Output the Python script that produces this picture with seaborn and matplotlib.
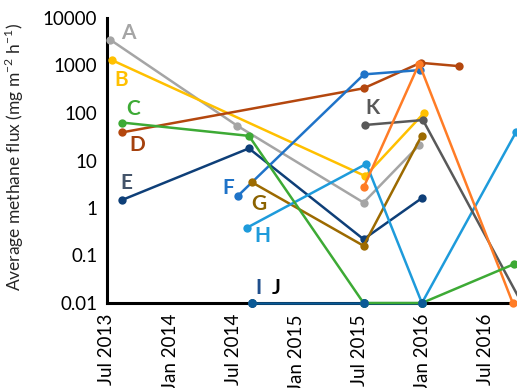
import matplotlib
matplotlib.use('Agg')
import matplotlib.pyplot as plt
import matplotlib.dates as mdates
import seaborn as sns
import pandas as pd

sns.set_style('white')
plt.rcParams['font.family'] = ['Lato', 'DejaVu Sans']
plt.rcParams['mathtext.fontset'] = 'custom'
plt.rcParams['mathtext.rm'] = 'Lato'

# ---- data ----
A_dates = ['2013-07-10', '2014-07-13', '2015-07-14', '2015-12-22']
A_vals = [3500, 54, 1.3, 21]
B_dates = ['2013-07-15', '2015-07-19', '2016-01-05']
B_vals = [1300, 4.7, 100]
C_dates = ['2013-08-13', '2014-08-16', '2015-07-14', '2015-12-30', '2016-09-22']
C_vals = [63, 33, 0.01, 0.01, 0.066]
D_dates = ['2013-08-13', '2015-07-14', '2015-12-26', '2016-04-15']
D_vals = [39, 331, 1140, 970]
E_dates = ['2013-08-13', '2014-08-16', '2015-07-14', '2015-12-29']
E_vals = [1.47, 18, 0.22, 1.6]
F_dates = ['2014-07-15', '2015-07-15', '2015-12-23']
F_vals = [1.8, 650, 800]
G_dates = ['2014-08-24', '2015-07-14', '2015-12-29']
G_vals = [3.5, 0.16, 33]
H_dates = ['2014-08-09', '2015-07-22', '2015-12-30', '2016-09-27']
H_vals = [0.38, 8.5, 0.01, 39]
I_dates = ['2014-08-24', '2015-07-14', '2015-12-30']
I_vals = [0.01, 0.01, 0.01]
J_dates = ['2014-08-24', '2015-07-14', '2015-12-30']
J_vals = [0.01, 0.01, 0.01]
K_dates = ['2015-07-19', '2016-01-02', '2016-10-14']
K_vals = [56, 71, 0.01]
L_dates = ['2015-07-15', '2015-12-22', '2016-09-18']
L_vals = [2.8, 1100, 0.01]

y_ticks = [0.01, 0.1, 1, 10, 100, 1000, 10000]
y_tick_labels = ['0.01', '0.1', '1', '10', '100', '1000', '10000']
x_tick_dates = ['2013-07-01', '2014-01-01', '2014-07-01', '2015-01-01',
                '2015-07-01', '2016-01-01', '2016-07-01']

series = [
    ('J', J_dates, J_vals, '#000000'),
    ('I', I_dates, I_vals, '#0B5A96'),
    ('A', A_dates, A_vals, '#A5A5A5'),
    ('B', B_dates, B_vals, '#FFC000'),
    ('D', D_dates, D_vals, '#B4470E'),
    ('E', E_dates, E_vals, '#0E3F78'),
    ('F', F_dates, F_vals, '#1F73C8'),
    ('G', G_dates, G_vals, '#9C6A00'),
    ('H', H_dates, H_vals, '#1E9BDB'),
    ('K', K_dates, K_vals, '#595959'),
    ('L', L_dates, L_vals, '#FF7C26'),
    ('C', C_dates, C_vals, '#3DAA35'),
]

labels = {
    'A': ('2013-08-31', 4800, '#A5A5A5'),
    'B': ('2013-08-10', 495, '#FFC000'),
    'C': ('2013-09-14', 121, '#3DAA35'),
    'D': ('2013-09-26', 21, '#A5410E'),
    'E': ('2013-08-25', 3.36, '#44546A'),
    'F': ('2014-06-16', 2.64, '#1F73C8'),
    'G': ('2014-09-14', 1.21, '#8B6200'),
    'H': ('2014-09-23', 0.258, '#1E9BDB'),
    'I': ('2014-09-14', 0.0207, '#1F4E8C'),
    'J': ('2014-11-02', 0.0207, '#000000'),
    'K': ('2015-08-09', 127, '#595959'),
}

# ---- figure ----
W, H = 517, 388
fig = plt.figure(figsize=(W / 100, H / 100), dpi=100)
x0_px, x1_px = 107, 549
y_top_px, y_bot_px = 18, 303
ax = fig.add_axes([x0_px / W, 1 - y_bot_px / H, (x1_px - x0_px) / W, (y_bot_px - y_top_px) / H])

for name, d, v, c in series:
    df = pd.DataFrame({'date': pd.to_datetime(d), 'val': v})
    sns.lineplot(data=df, x='date', y='val', color=c, lw=1.8, marker='o',
                 markersize=6, markeredgewidth=0, ax=ax, clip_on=False, zorder=3)

# I markers on top of the green line
dfi = pd.DataFrame({'date': pd.to_datetime(I_dates), 'val': I_vals})
sns.scatterplot(data=dfi, x='date', y='val', color='#0B5A96', s=40, linewidth=0,
                ax=ax, clip_on=False, zorder=4)

ax.set_yscale('log')
ax.set_ylim(0.01, 10000)
ax.set_xlim(pd.Timestamp('2013-07-01'), pd.Timestamp('2017-01-01'))
ax.set_yticks(y_ticks)
ax.set_yticklabels(y_tick_labels)
ax.yaxis.set_minor_locator(matplotlib.ticker.NullLocator())
ax.set_xticks(pd.to_datetime(x_tick_dates))
ax.xaxis.set_major_formatter(mdates.DateFormatter('%b %Y'))
plt.setp(ax.get_xticklabels(), rotation=90)
ax.tick_params(axis='both', which='major', direction='out', length=5, width=2,
               labelsize=13.5, colors='black', pad=2)
ax.tick_params(axis='x', pad=3)

for s in ['top', 'right']:
    ax.spines[s].set_visible(False)
for s in ['left', 'bottom']:
    ax.spines[s].set_linewidth(2.2)
    ax.spines[s].set_color('black')

ax.set_xlabel('')
ax.set_ylabel('Average methane flux (mg m$^{-2}$ h$^{-1}$)', fontsize=12.5)
ax.yaxis.set_label_coords(-0.183, 0.512)

for name, (d, v, c) in labels.items():
    ax.text(pd.Timestamp(d), v, name, color=c, fontsize=15, fontweight='bold',
            ha='center', va='center', zorder=5)

fig.savefig('out.png', dpi=100)
